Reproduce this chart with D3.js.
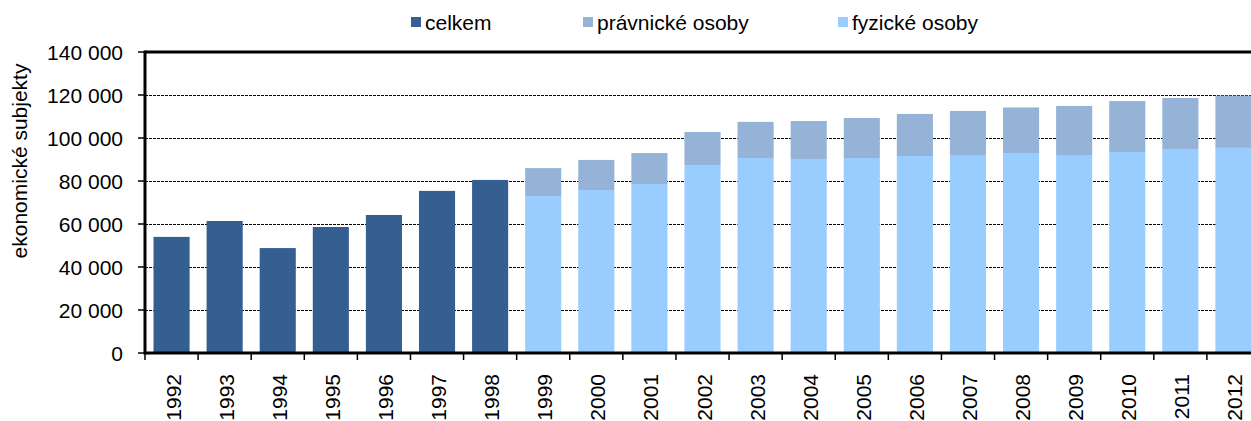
<!DOCTYPE html>
<html>
<head>
<meta charset="utf-8">
<script src="https://cdn.jsdelivr.net/npm/d3@7/dist/d3.min.js"></script>
<style>
  html, body { margin: 0; padding: 0; background: #fff; }
  svg { display: block; }
  text { font-family: "Liberation Sans", Arial, sans-serif; fill: #000; font-size: 21px; }
</style>
</head>
<body>
<svg id="chart" width="1251" height="421"></svg>
<script>
// Počet ekonomických subjektů 1992–2012
const years = ["1992","1993","1994","1995","1996","1997","1998","1999","2000","2001",
  "2002","2003","2004","2005","2006","2007","2008","2009","2010","2011","2012"];

// celkem (bez členění, 1992–1998)
const celkem = [54000, 61400, 48800, 58600, 64200, 75400, 80500,
  null, null, null, null, null, null, null, null, null, null, null, null, null, null];

// fyzické osoby (od 1999)
const fyzicke = [null, null, null, null, null, null, null,
  73000, 75800, 78600, 87400, 90700, 90200, 90700, 91600, 92100, 93000, 92100, 93500, 94900, 95400];

// právnické osoby (od 1999)
const pravnicke = [null, null, null, null, null, null, null,
  13000, 14000, 14400, 15400, 16800, 17700, 18600, 19600, 20500, 21200, 22800, 23700, 23700, 24300];

const yTicks = [0, 20000, 40000, 60000, 80000, 100000, 120000, 140000];

const seriesNames = ["celkem", "právnické osoby", "fyzické osoby"];
const colors = { "celkem": "#365f91", "právnické osoby": "#95b3d7", "fyzické osoby": "#99ccff" };

const svg = d3.select("#chart");
const plotLeft = 145, plotRight = 1260, plotTop = 52, plotBottom = 353;

const x = d3.scaleBand().domain(years).range([plotLeft, plotRight])
  .paddingInner(0.32).paddingOuter(0.16);
const y = d3.scaleLinear().domain([0, 140000]).range([plotBottom, plotTop]);

const fmt = v => d3.format(",")(v).replace(/,/g, " ");

// horizontal dashed gridlines
svg.append("g").selectAll("line")
  .data(yTicks.filter(t => t > 0 && t < 140000))
  .join("line")
  .attr("x1", plotLeft).attr("x2", plotRight)
  .attr("y1", d => Math.round(y(d)) + 0.5).attr("y2", d => Math.round(y(d)) + 0.5)
  .attr("stroke", "#000").attr("stroke-width", 1).attr("stroke-dasharray", "3,1");

// bars
const rows = years.map((yr, i) => ({ yr, c: celkem[i], f: fyzicke[i], p: pravnicke[i] }));
const bars = svg.append("g");
bars.selectAll("rect.c").data(rows.filter(r => r.c != null)).join("rect")
  .attr("class", "c")
  .attr("x", d => x(d.yr)).attr("width", x.bandwidth())
  .attr("y", d => y(d.c)).attr("height", d => y(0) - y(d.c))
  .attr("fill", colors["celkem"]);
bars.selectAll("rect.f").data(rows.filter(r => r.f != null)).join("rect")
  .attr("class", "f")
  .attr("x", d => x(d.yr)).attr("width", x.bandwidth())
  .attr("y", d => y(d.f)).attr("height", d => y(0) - y(d.f))
  .attr("fill", colors["fyzické osoby"]);
bars.selectAll("rect.p").data(rows.filter(r => r.p != null)).join("rect")
  .attr("class", "p")
  .attr("x", d => x(d.yr)).attr("width", x.bandwidth())
  .attr("y", d => y(d.f + d.p)).attr("height", d => y(d.f) - y(d.f + d.p))
  .attr("fill", colors["právnické osoby"]);

// top frame line
svg.append("line")
  .attr("x1", plotLeft).attr("x2", plotRight).attr("y1", plotTop).attr("y2", plotTop)
  .attr("stroke", "#000").attr("stroke-width", 3);

// y axis
const yAxis = svg.append("g");
yAxis.append("line")
  .attr("x1", plotLeft).attr("x2", plotLeft).attr("y1", plotTop - 1.5).attr("y2", plotBottom + 1.5)
  .attr("stroke", "#000").attr("stroke-width", 3);
yAxis.selectAll("line.tick").data(yTicks).join("line")
  .attr("class", "tick")
  .attr("x1", plotLeft - 7).attr("x2", plotLeft)
  .attr("y1", d => y(d)).attr("y2", d => y(d))
  .attr("stroke", "#000").attr("stroke-width", 1.5);
yAxis.selectAll("text").data(yTicks).join("text")
  .attr("x", 123).attr("y", d => y(d)).attr("dy", "0.36em")
  .attr("text-anchor", "end")
  .text(fmt);

// y axis title
svg.append("text")
  .attr("transform", "translate(27,161) rotate(-90)")
  .attr("text-anchor", "middle")
  .text("ekonomické subjekty");

// x axis
const xAxis = svg.append("g");
xAxis.append("line")
  .attr("x1", plotLeft).attr("x2", plotRight).attr("y1", plotBottom).attr("y2", plotBottom)
  .attr("stroke", "#000").attr("stroke-width", 3);
const boundaries = d3.range(years.length + 1).map(i => plotLeft + i * x.step());
xAxis.selectAll("line.tick").data(boundaries).join("line")
  .attr("class", "tick")
  .attr("x1", d => d).attr("x2", d => d)
  .attr("y1", plotBottom).attr("y2", plotBottom + 7)
  .attr("stroke", "#000").attr("stroke-width", 1.5);
xAxis.selectAll("text").data(years).join("text")
  .attr("transform", d => `translate(${x(d) + x.bandwidth() / 2 + 9},374) rotate(-90)`)
  .attr("text-anchor", "end")
  .text(d => d);

// legend
const legendX = { "celkem": 411, "právnické osoby": 583, "fyzické osoby": 838 };
const legend = svg.append("g");
seriesNames.forEach(name => {
  const g = legend.append("g").attr("transform", `translate(${legendX[name]},0)`);
  g.append("rect").attr("x", 0).attr("y", 17).attr("width", 10).attr("height", 10)
    .attr("fill", colors[name]);
  g.append("text").attr("x", 14).attr("y", 30)
    .text(name);
});
</script>
</body>
</html>
